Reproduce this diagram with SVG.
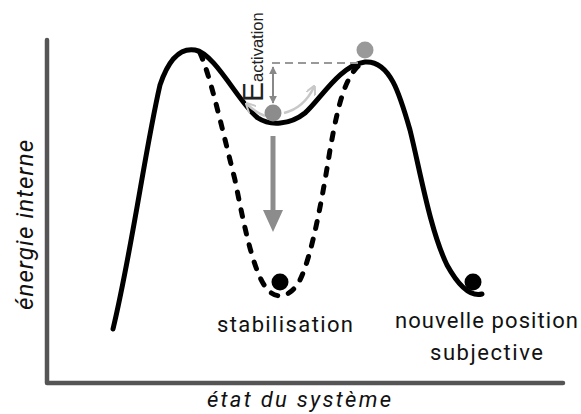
<svg xmlns="http://www.w3.org/2000/svg" width="581" height="414" viewBox="0 0 581 414">
<defs>
<style>
.lbl{font-family:Roboto,"Liberation Sans",sans-serif;fill:#111;}
.it{font-style:italic;}
.curve{fill:none;stroke:#000;stroke-width:5;stroke-linecap:round;}
.dash{fill:none;stroke:#000;stroke-width:5;stroke-linecap:round;stroke-dasharray:7 11;}
.axis{fill:none;stroke:#555;stroke-width:4.5;stroke-linecap:round;stroke-linejoin:round;}
</style>
<marker id="hg" viewBox="0 0 10 10" refX="9" refY="5" markerWidth="4" markerHeight="4" orient="auto-start-reverse" markerUnits="strokeWidth"><path d="M0,0 L10,5 L0,10 z" fill="#888"/></marker>
<marker id="hl" viewBox="0 0 10 10" refX="8" refY="5" markerWidth="4" markerHeight="4" orient="auto" markerUnits="strokeWidth"><path d="M0,0 L10,5 L0,10" fill="none" stroke="#c8c8c8" stroke-width="2"/></marker>
</defs>
<g id="axes">
<path class="axis" d="M47,40 V383 H563"/>
</g>
<g id="curves">
<path id="solid" class="curve" d="M113,329 C132,250 145,150 160,85 C170,55 183,48 195,50 C215,53 240,105 258,118 C270,126 290,125 305,113 C320,100 340,65 365,62 C390,60 400,95 410,130 C420,170 430,230 447,265 C458,285 470,297 482,294"/>
<path id="dashed" class="dash" d="M200,53 C210,75 220,120 235,180 C245,230 255,280 270,292 C280,300 292,295 300,280 C312,255 322,200 330,150 C338,105 345,75 362,63"/>
</g>
<g id="connectors">
<line x1="272" y1="63" x2="358" y2="63" stroke="#999" stroke-width="2" stroke-dasharray="8 5"/>
<line x1="273" y1="67" x2="273" y2="103" stroke="#888" stroke-width="2" marker-start="url(#hg)" marker-end="url(#hg)"/>
<path d="M265,116 Q255,112 247,104" fill="none" stroke="#c8c8c8" stroke-width="2.5" marker-end="url(#hl)"/>
<path d="M284,113 Q304,108 314,87" fill="none" stroke="#c8c8c8" stroke-width="2.5" marker-end="url(#hl)"/>
<line x1="273" y1="136" x2="273" y2="212" stroke="#8c8c8c" stroke-width="5"/>
<path d="M263,210 L283,210 L273,232 z" fill="#8c8c8c"/>
</g>
<g id="ball-valley"><circle cx="273" cy="113" r="8.5" fill="#8c8c8c"/></g>
<g id="ball-peak"><circle cx="365" cy="50" r="8.5" fill="#999"/></g>
<g id="ball-stab"><circle cx="280" cy="282" r="8.5" fill="#000"/></g>
<g id="ball-new"><circle cx="473" cy="282" r="8.5" fill="#000"/></g>
<g id="label-eact">
<text transform="translate(263,102) rotate(-90)" font-family="'Liberation Sans',Arial,sans-serif" fill="#222"><tspan font-size="30">E</tspan><tspan font-size="16.5">activation</tspan></text>
</g>
<g id="label-y"><text class="lbl it" transform="translate(33,310) rotate(-90)" font-size="24" textLength="170" lengthAdjust="spacing">énergie interne</text></g>
<g id="label-x"><text class="lbl it" x="207" y="407" font-size="22" textLength="184" lengthAdjust="spacing">état du système</text></g>
<g id="label-stab"><text class="lbl" x="217" y="332" font-size="22" textLength="136" lengthAdjust="spacing">stabilisation</text></g>
<g id="label-new">
<text class="lbl" x="395" y="328" font-size="22" textLength="183" lengthAdjust="spacing">nouvelle position</text>
<text class="lbl" x="430" y="360" font-size="22" textLength="113" lengthAdjust="spacing">subjective</text>
</g>
</svg>
